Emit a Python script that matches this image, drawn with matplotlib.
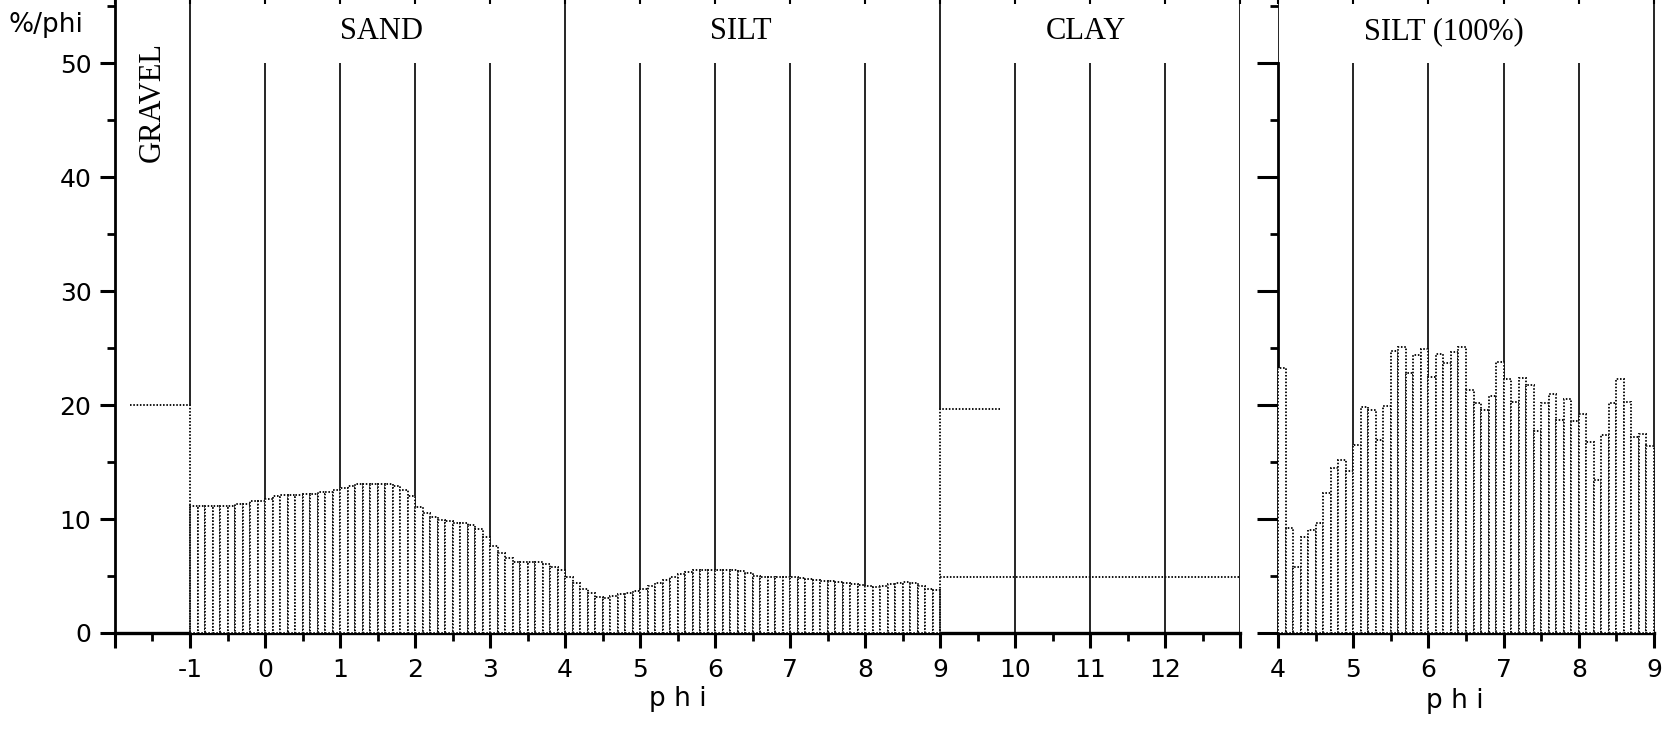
import matplotlib.pyplot as plt
import numpy as np
from matplotlib.ticker import MultipleLocator

# whole-sample histogram, 0.1 phi classes from -1 to 9 phi (%/phi)
sample_pct = [
    11.15, 11.15, 11.15, 11.15, 11.15, 11.15, 11.3, 11.3, 11.6, 11.6,
    11.8, 12.0, 12.15, 12.15, 12.15, 12.2, 12.2, 12.4, 12.4, 12.55,
    12.7, 12.9, 13.05, 13.05, 13.05, 13.05, 13.05, 12.9, 12.55, 12.0,
    11.1, 10.5, 10.15, 9.9, 9.8, 9.7, 9.7, 9.5, 9.1, 8.45,
    7.6, 7.0, 6.55, 6.2, 6.2, 6.2, 6.2, 6.05, 5.8, 5.55,
    4.95, 4.36, 3.9, 3.5, 3.2, 3.1, 3.25, 3.4, 3.55, 3.7,
    3.9, 4.1, 4.4, 4.65, 4.9, 5.2, 5.35, 5.5, 5.53, 5.53,
    5.53, 5.5, 5.5, 5.4, 5.25, 5.0, 4.9, 4.9, 4.9, 4.95,
    4.9, 4.8, 4.75, 4.65, 4.6, 4.6, 4.5, 4.36, 4.3, 4.2,
    4.15, 4.07, 4.1, 4.3, 4.4, 4.5, 4.4, 4.15, 3.9, 3.75,
]
sample_start = -1.0

# silt fraction re-normalised to 100 %, 0.1 phi classes from 4 to 9 phi
silt_pct = [
    23.3, 9.2, 5.8, 8.45, 9.0, 9.7, 12.3, 14.5, 15.2, 14.2,
    16.5, 19.8, 19.6, 16.9, 19.9, 24.8, 25.1, 22.8, 24.4, 24.9,
    22.5, 24.5, 23.7, 24.7, 25.1, 21.3, 20.2, 19.6, 20.8, 23.8,
    22.3, 20.3, 22.4, 21.8, 17.7, 20.2, 21.0, 18.7, 20.5, 18.6,
    19.2, 16.8, 13.4, 17.4, 20.2, 22.3, 20.3, 17.2, 17.5, 16.4,
]
silt_start = 4.0
BIN = 0.1

# gravel and clay are not resolved into classes
gravel_level, gravel_from, gravel_to = 20.0, -1.8, -1.0
clay_level, clay_from, clay_to = 19.7, 9.0, 9.8
clay_spread, clay_end = 4.9, 13.0

regions = [("SAND", 1.55), ("SILT", 6.35), ("CLAY", 10.95)]

PX = 1 / 100
W, H = 1663, 729
y_top = 55.57
dot = (0, (0.8, 0.9))
dot_col = "#111111"
DOT_LW = 1.4

plt.rcParams["font.family"] = ["DejaVu Sans"]
fig = plt.figure(figsize=(W * PX, H * PX), dpi=100)
bottom = 96 / H
axL = fig.add_axes([115 / W, bottom, 1125 / W, 1 - bottom])
axR = fig.add_axes([1278 / W, bottom, 383.5 / W, 1 - bottom])


def style_axis(ax, xmin, xmax, labelled, ytick_len):
    ax.set_ylim(0, y_top)
    ax.set_xlim(xmin, xmax)
    ax.spines["top"].set_visible(False)
    ax.spines["right"].set_visible(False)
    ax.spines["bottom"].set_linewidth(2.4)
    ax.spines["left"].set_linewidth(2.0)
    ax.spines["bottom"].set_bounds(xmin, np.floor(xmax))
    ax.set_xticks(np.arange(np.ceil(xmin), np.floor(xmax) + 1))
    ax.set_xticklabels([f"{int(t)}" if t in labelled else "" for t in ax.get_xticks()])
    ax.xaxis.set_minor_locator(MultipleLocator(0.5))
    ax.set_yticks(np.arange(0, 51, 10))
    ax.yaxis.set_minor_locator(MultipleLocator(5))
    ax.tick_params(which="major", width=2.2, labelsize=18, pad=6)
    ax.tick_params(which="minor", length=6, width=2.0)
    ax.tick_params(axis="x", which="major", length=11, pad=7)
    ax.tick_params(axis="y", which="major", length=ytick_len)
    ax.set_xlabel("p h i", fontsize=19, labelpad=3)
    # short marks along the top edge
    ax.vlines(ax.get_xticks(), 0.993, 1.0, transform=ax.get_xaxis_transform(),
              color="black", lw=1.5, clip_on=False)


style_axis(axL, -2, 13, set(range(-1, 13)), 11)
style_axis(axR, 4, 9.1, set(range(4, 10)), 15)
axR.set_yticklabels([])
axR.spines["left"].set_bounds(0, 50)
axR.xaxis.set_label_coords(0.46, -0.087)

# class boundary lines
for x in [4, 13]:
    axL.axvline(x, color="black", lw=1.2, zorder=1)
axL.vlines([-1], gravel_level, y_top, color="black", lw=1.2, zorder=1)
axL.vlines([9], clay_level, y_top, color="black", lw=1.2, zorder=1)
axL.vlines([0, 1, 2, 3, 5, 6, 7, 8, 10, 11, 12], 0, 50, color="black", lw=1.2, zorder=1)
for x in [4, 9]:
    axR.axvline(x, color="black", lw=1.2, zorder=1)
axR.vlines([5, 6, 7, 8], 0, 50, color="black", lw=1.2, zorder=1)

# histograms
left_edges = sample_start + BIN * np.arange(len(sample_pct))
axL.bar(left_edges, sample_pct, width=BIN, align="edge", facecolor="white",
        edgecolor=dot_col, linestyle=dot, lw=DOT_LW, zorder=3)
silt_edges = silt_start + BIN * np.arange(len(silt_pct))
axR.bar(silt_edges, silt_pct, width=BIN, align="edge", facecolor="white",
        edgecolor=dot_col, linestyle=dot, lw=DOT_LW, zorder=3)

# gravel / clay levels
axL.plot([gravel_from, gravel_to, gravel_to], [gravel_level, gravel_level, 0],
         color=dot_col, linestyle=dot, lw=DOT_LW, zorder=4)
axL.plot([clay_to, clay_from, clay_from], [clay_level, clay_level, 0],
         color=dot_col, linestyle=dot, lw=DOT_LW, zorder=4)
axL.plot([clay_from, clay_end], [clay_spread, clay_spread],
         color=dot_col, linestyle=dot, lw=DOT_LW, zorder=4)

serif = ["Liberation Serif", "DejaVu Serif"]
for name, x in regions:
    axL.text(x, 52.8, name, ha="center", va="center", fontsize=22, family=serif)
axL.text(-1.5, 46.6, "GRAVEL", ha="center", va="center", rotation=90,
         fontsize=22, family=serif)
axR.text(6.2, 52.8, "SILT (100%)", ha="center", va="center", fontsize=22, family=serif)

fig.text(8 / W, 1 - 25 / H, "%/phi", ha="left", va="center", fontsize=19)

fig.savefig("out.png", dpi=100)
